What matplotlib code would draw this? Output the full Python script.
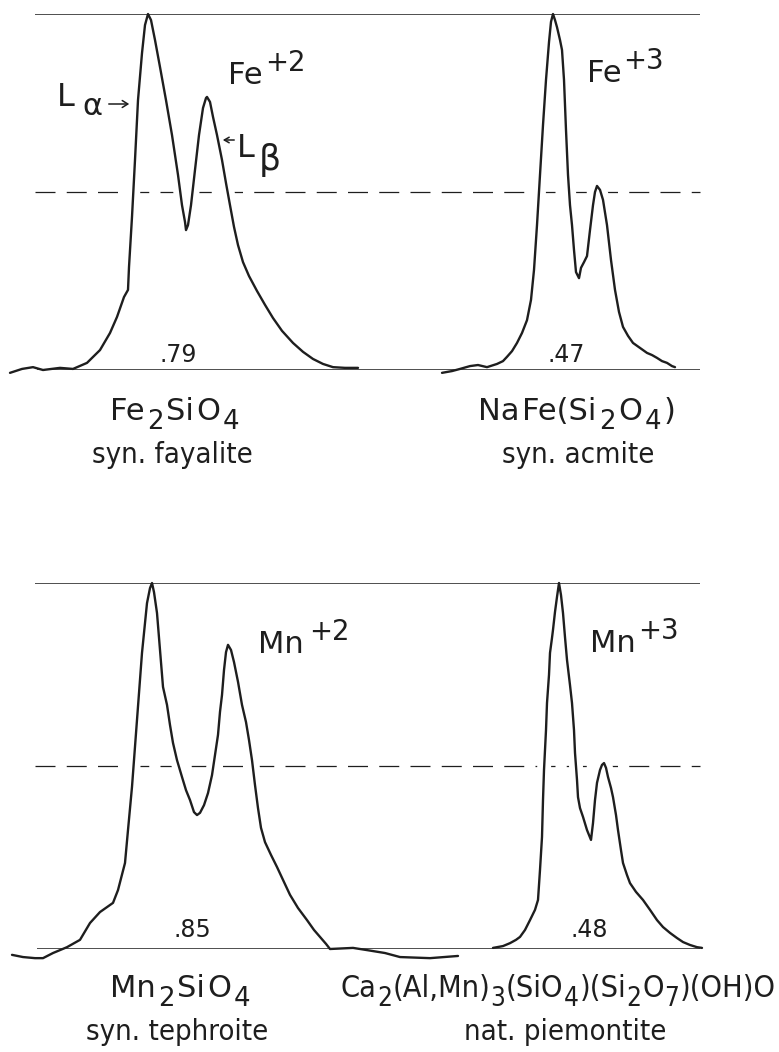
import matplotlib
matplotlib.use("Agg")
import matplotlib.pyplot as plt
from matplotlib.patches import FancyArrowPatch
from matplotlib.transforms import Affine2D

# ---------------- data ----------------
# x: channel position along the spectrum, i: intensity normalised to the L-alpha peak
fe2_x = [10, 22, 33, 43, 60, 73, 87, 100, 110, 117, 124, 128, 129, 132, 135, 138, 142, 145,
         148, 151, 155, 160, 166, 172, 178, 182, 185, 186, 188, 191, 195, 199, 203, 206, 207,
         210, 213, 217, 222, 226, 230, 234, 238, 243, 249, 257, 265, 273, 282, 293, 303, 313,
         323, 333, 345, 358]
fe2_i = [-0.008, 0.003, 0.008, 0.0, 0.006, 0.003, 0.020, 0.056, 0.104, 0.149, 0.205, 0.225,
         0.289, 0.430, 0.590, 0.758, 0.890, 0.969, 1.0, 0.983, 0.927, 0.851, 0.758, 0.660,
         0.548, 0.463, 0.416, 0.393, 0.407, 0.463, 0.562, 0.660, 0.736, 0.764, 0.767, 0.753,
         0.711, 0.660, 0.590, 0.525, 0.463, 0.402, 0.351, 0.303, 0.264, 0.222, 0.183, 0.146,
         0.110, 0.076, 0.051, 0.031, 0.017, 0.008, 0.006, 0.006]

fe3_x = [442, 452, 460, 470, 478, 487, 497, 503, 507, 512, 517, 522, 527, 531, 534, 537, 540,
         543, 546, 549, 551, 553, 555, 557, 560, 562, 564, 566, 568, 570, 572, 574, 576, 579,
         581, 584, 587, 590, 593, 595, 597, 600, 603, 607, 611, 615, 619, 623, 628, 633, 640,
         647, 652, 657, 662, 667, 672, 675]
fe3_i = [-0.008, -0.003, 0.003, 0.011, 0.014, 0.008, 0.017, 0.025, 0.037, 0.053, 0.076, 0.104,
         0.140, 0.197, 0.281, 0.407, 0.548, 0.688, 0.815, 0.921, 0.978, 1.0, 0.983, 0.963,
         0.927, 0.899, 0.815, 0.674, 0.548, 0.463, 0.407, 0.337, 0.275, 0.258, 0.287, 0.303,
         0.320, 0.393, 0.463, 0.500, 0.517, 0.506, 0.478, 0.407, 0.309, 0.225, 0.163, 0.121,
         0.096, 0.076, 0.062, 0.048, 0.042, 0.034, 0.025, 0.020, 0.011, 0.008]

mn2_x = [12, 23, 35, 43, 53, 67, 80, 90, 100, 113, 118, 125, 128, 132, 137, 142, 147, 150, 152,
         154, 157, 160, 163, 167, 170, 173, 177, 182, 186, 190, 194, 197, 200, 204, 208, 212,
         215, 218, 220, 222, 224, 226, 228, 231, 234, 238, 242, 246, 249, 252, 255, 258, 261,
         265, 271, 277, 284, 290, 298, 307, 314, 320, 326, 330, 353, 367, 385, 400, 430, 458]
mn2_i = [-0.016, -0.022, -0.025, -0.025, -0.011, 0.005, 0.025, 0.071, 0.101, 0.126, 0.161,
         0.235, 0.325, 0.443, 0.626, 0.809, 0.945, 0.986, 1.0, 0.975, 0.918, 0.817, 0.716,
         0.667, 0.612, 0.563, 0.516, 0.470, 0.434, 0.407, 0.374, 0.366, 0.372, 0.393, 0.426,
         0.475, 0.530, 0.585, 0.648, 0.694, 0.762, 0.811, 0.831, 0.817, 0.784, 0.730, 0.667,
         0.620, 0.571, 0.516, 0.448, 0.385, 0.331, 0.292, 0.257, 0.224, 0.183, 0.148, 0.112,
         0.079, 0.052, 0.033, 0.014, 0.0, 0.003, -0.003, -0.011, -0.022, -0.025, -0.019]

mn3_x = [493, 503, 510, 516, 520, 525, 530, 535, 538, 540, 542, 543, 544, 546, 547, 549, 550,
         552, 553, 555, 557, 559, 561, 563, 565, 567, 570, 572, 574, 575, 577, 578, 580, 583,
         587, 591, 593, 595, 597, 600, 602, 604, 606, 608, 611, 613, 616, 618, 621, 623, 627,
         630, 636, 643, 650, 657, 663, 670, 677, 683, 690, 697, 702]
mn3_i = [0.003, 0.008, 0.016, 0.025, 0.033, 0.052, 0.079, 0.107, 0.134, 0.216, 0.306, 0.407,
         0.489, 0.598, 0.672, 0.749, 0.809, 0.850, 0.872, 0.921, 0.962, 1.0, 0.967, 0.918,
         0.852, 0.790, 0.721, 0.672, 0.598, 0.536, 0.462, 0.415, 0.385, 0.361, 0.325, 0.298,
         0.344, 0.407, 0.454, 0.489, 0.503, 0.508, 0.495, 0.470, 0.440, 0.415, 0.366, 0.325,
         0.270, 0.235, 0.202, 0.180, 0.156, 0.134, 0.107, 0.079, 0.060, 0.044, 0.030, 0.019,
         0.011, 0.005, 0.003]

ratios = [".79", ".47", ".85", ".48"]
ions = [("Fe", "+2"), ("Fe", "+3"), ("Mn", "+2"), ("Mn", "+3")]
formulas = [
    [("Fe", "n"), ("2", "sub"), ("Si", "n"), ("O", "n"), ("4", "sub")],
    [("Na", "n"), ("Fe(Si", "n"), ("2", "sub"), ("O", "n"), ("4", "sub"), (")", "n")],
    [("Mn", "n"), ("2", "sub"), ("Si", "n"), ("O", "n"), ("4", "sub")],
    [("Ca", "n"), ("2", "sub"), ("(Al,Mn)", "n"), ("3", "sub"), ("(SiO", "n"), ("4", "sub"),
     (")(Si", "n"), ("2", "sub"), ("O", "n"), ("7", "sub"), (")(OH)O", "n")],
]
minerals = ["syn. fayalite", "syn. acmite", "syn. tephroite", "nat. piemontite"]

# ---------------- layout ----------------
W, H, DPI = 779, 1052, 100
INK = "#1e1e1e"
FONT = "DejaVu Sans"

fig = plt.figure(figsize=(W / DPI, H / DPI), dpi=DPI)
fig.patch.set_facecolor("white")
px = Affine2D().scale(1.0 / W, -1.0 / H).translate(0, 1) + fig.transFigure
renderer = fig.canvas.get_renderer()


def panel(top_px, base_px):
    ax = fig.add_axes([0, (H - base_px) / H, 1, (base_px - top_px) / H])
    ax.set_xlim(0, W)
    ax.set_ylim(0, 1)
    ax.axis("off")
    ax.hlines(1.0, 35, 700, color=INK, lw=1.1, zorder=3)
    ax.hlines(0.0, 37, 700, color=INK, lw=1.1, zorder=3)
    ax.hlines(0.5, 35, 700, color=INK, lw=0.9, linestyles=[(0, (16, 9))], zorder=1)
    return ax


def spectrum(ax, x, i):
    ax.plot(x, i, color="white", lw=10, zorder=2, clip_on=False, solid_capstyle="butt")
    ax.plot(x, i, color=INK, lw=1.7, zorder=4, clip_on=False,
            solid_joinstyle="round", solid_capstyle="round")


def runs(parts, x, y, size, ha="center", gap=0.0, sub_scale=0.85, sub_drop=0.30,
         sup_rise=0.42, stretch="normal"):
    em = size * DPI / 72.0
    items = []
    for s, kind in parts:
        fs = size if kind == "n" else size * sub_scale
        dy = sub_drop * em if kind == "sub" else (-sup_rise * em if kind == "sup" else 0.0)
        t = fig.text(0, y + dy, s, transform=px, fontsize=fs, family=FONT,
                     fontstretch=stretch, color=INK, ha="left", va="baseline")
        items.append([t, t.get_window_extent(renderer).width])
    total = sum(w for _, w in items) + gap * (len(items) - 1)
    cx = x - total / 2.0 if ha == "center" else x
    for t, w in items:
        t.set_x(cx)
        cx += w + gap


ax_top = panel(14, 370)
ax_bot = panel(583, 949)

spectrum(ax_top, fe2_x, fe2_i)
spectrum(ax_top, fe3_x, fe3_i)
spectrum(ax_bot, mn2_x, mn2_i)
spectrum(ax_bot, mn3_x, mn3_i)

# ion labels: (left x, baseline y, gap)
ion_pos = [(228, 84, 3), (587, 82, 2), (258, 653, 5), (590, 652, 2)]
for (el, ch), (x, y, g) in zip(ions, ion_pos):
    runs([(el, "n"), (ch, "sup")], x, y, 22, ha="left", gap=g, sub_scale=0.9,
         sup_rise=0.42)

# ratio numbers
ratio_pos = [(178, 362), (566, 362), (192, 937), (589, 937)]
for r, (x, y) in zip(ratios, ratio_pos):
    fig.text(x, y, r, transform=px, fontsize=17, family=FONT, color=INK,
             ha="center", va="baseline")

# L-alpha / L-beta markers
fig.text(57, 106, "L", transform=px, fontsize=23, family=FONT, color=INK, va="baseline")
fig.text(82, 115, "\u03b1", transform=px, fontsize=22, family=FONT, color=INK,
         va="baseline")
fig.add_artist(FancyArrowPatch((106, 104), (132, 104), transform=px,
                               arrowstyle="->,head_length=4,head_width=2.5", color=INK,
                               lw=1.1))
fig.add_artist(FancyArrowPatch((237, 140), (220, 140), transform=px,
                               arrowstyle="->,head_length=3.5,head_width=2", color=INK,
                               lw=1.1))
fig.text(237, 157, "L", transform=px, fontsize=23, family=FONT, color=INK, va="baseline")
fig.text(259, 170, "\u03b2", transform=px, fontsize=25, family=FONT, color=INK,
         va="baseline")

# formula and mineral names: (centre x, baseline y, gap, stretch)
form_pos = [(175, 420, 2.5, "normal"), (577, 420, 2.5, "normal"),
            (180, 997, 2.5, "normal"), (558, 997, 0.5, "condensed")]
name_pos = [(172, 463), (578, 463), (177, 1040), (565, 1040)]
for parts, (x, y, g, st) in zip(formulas, form_pos):
    runs(parts, x, y, 22, gap=g, stretch=st)
for s, (x, y) in zip(minerals, name_pos):
    fig.text(x, y, s, transform=px, fontsize=21, family=FONT, fontstretch="condensed",
             color=INK, ha="center", va="baseline")

fig.savefig("out.png", dpi=DPI, facecolor="white")
